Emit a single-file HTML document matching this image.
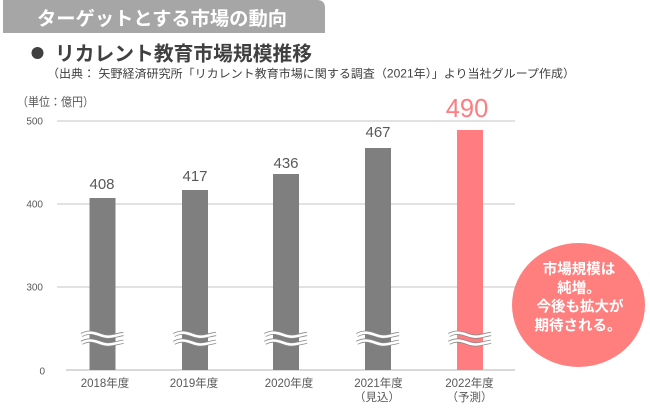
<!DOCTYPE html>
<html>
<head>
<meta charset="utf-8">
<style>
  html,body{margin:0;padding:0;background:#fff;}
  body{width:650px;height:415px;overflow:hidden;}
  svg{display:block;}
  .jp{font-family:"Liberation Sans","Noto Sans CJK JP",sans-serif;}
  .num{font-family:"Liberation Sans","DejaVu Sans",sans-serif;}
</style>
</head>
<body>
<svg width="650" height="415" viewBox="0 0 650 415" xmlns="http://www.w3.org/2000/svg">
  <!-- header -->
  <path d="M3,0 H317 Q325,0 325,8 V33 H3 Z" fill="#a6a6a6"/>
  <text class="jp" x="37" y="25" font-size="19" font-weight="bold" fill="#ffffff" textLength="250" lengthAdjust="spacingAndGlyphs">ターゲットとする市場の動向</text>

  <!-- title -->
  <circle cx="37.5" cy="53" r="6" fill="#404040"/>
  <text class="jp" x="55" y="60.5" font-size="20" font-weight="bold" fill="#404040" textLength="257" lengthAdjust="spacingAndGlyphs">リカレント教育市場規模推移</text>
  <text class="jp" x="47" y="77.5" font-size="11.5" fill="#404040" textLength="528" lengthAdjust="spacingAndGlyphs">（出典： 矢野経済研究所「リカレント教育市場に関する調査（2021年）」より当社グループ作成）</text>

  <!-- unit -->
  <text class="jp" x="17" y="106" font-size="12" fill="#595959" textLength="77" lengthAdjust="spacingAndGlyphs">（単位：億円）</text>

  <!-- gridlines -->
  <g stroke="#d9d9d9" stroke-width="1.5">
    <line x1="57" y1="121" x2="515" y2="121"/>
    <line x1="57" y1="204" x2="515" y2="204"/>
    <line x1="57" y1="287" x2="515" y2="287"/>
  </g>
  <line x1="66" y1="370" x2="515" y2="370" stroke="#d9d9d9" stroke-width="2"/>

  <!-- y labels -->
  <g class="num" font-size="10" fill="#595959" text-anchor="end">
    <text x="43" y="124.5">500</text>
    <text x="43" y="207.5">400</text>
    <text x="43" y="290.5">300</text>
    <text x="45" y="374.5">0</text>
  </g>

  <!-- bars -->
  <rect x="89.5" y="198" width="26" height="172" fill="#7f7f7f"/>
  <rect x="182" y="190" width="26" height="180" fill="#7f7f7f"/>
  <rect x="273" y="174" width="26" height="196" fill="#7f7f7f"/>
  <rect x="365" y="148" width="26" height="222" fill="#7f7f7f"/>
  <rect x="457" y="130" width="26" height="240" fill="#ff7c80"/>

  <!-- break marks -->
  <defs>
    <path id="wv" d="M-21,335 C-18,333.5 -15,332.6 -12,332.7 C-5,333 -1,336.6 5,336.7 C11,336.8 16,334.5 21,334"/>
  </defs>
  <g fill="none">
    <g transform="translate(102.5,0)">
      <use href="#wv" stroke="#8a8a8a" stroke-width="4.2"/><use href="#wv" stroke="#fff" stroke-width="2.6"/>
      <use href="#wv" y="7.8" stroke="#8a8a8a" stroke-width="4.2"/><use href="#wv" y="7.8" stroke="#fff" stroke-width="2.6"/>
    </g>
    <g transform="translate(195,0)">
      <use href="#wv" stroke="#8a8a8a" stroke-width="4.2"/><use href="#wv" stroke="#fff" stroke-width="2.6"/>
      <use href="#wv" y="7.8" stroke="#8a8a8a" stroke-width="4.2"/><use href="#wv" y="7.8" stroke="#fff" stroke-width="2.6"/>
    </g>
    <g transform="translate(286,0)">
      <use href="#wv" stroke="#8a8a8a" stroke-width="4.2"/><use href="#wv" stroke="#fff" stroke-width="2.6"/>
      <use href="#wv" y="7.8" stroke="#8a8a8a" stroke-width="4.2"/><use href="#wv" y="7.8" stroke="#fff" stroke-width="2.6"/>
    </g>
    <g transform="translate(378,0)">
      <use href="#wv" stroke="#8a8a8a" stroke-width="4.2"/><use href="#wv" stroke="#fff" stroke-width="2.6"/>
      <use href="#wv" y="7.8" stroke="#8a8a8a" stroke-width="4.2"/><use href="#wv" y="7.8" stroke="#fff" stroke-width="2.6"/>
    </g>
    <g transform="translate(470,0)">
      <use href="#wv" stroke="#8a8a8a" stroke-width="4.2"/><use href="#wv" stroke="#fff" stroke-width="2.6"/>
      <use href="#wv" y="7.8" stroke="#8a8a8a" stroke-width="4.2"/><use href="#wv" y="7.8" stroke="#fff" stroke-width="2.6"/>
    </g>
  </g>

  <!-- value labels -->
  <g class="num" font-size="15" fill="#595959" text-anchor="middle">
    <text x="102" y="189">408</text>
    <text x="195" y="181">417</text>
    <text x="286" y="168">436</text>
    <text x="378" y="137">467</text>
  </g>
  <text class="num" x="467" y="117" font-size="25.5" fill="#ff7c80" text-anchor="middle">490</text>

  <!-- x labels -->
  <g class="jp" font-size="11.5" fill="#595959" text-anchor="middle">
    <text x="105" y="387">2018年度</text>
    <text x="194" y="387">2019年度</text>
    <text x="289" y="387">2020年度</text>
    <text x="378.5" y="387">2021年度</text>
    <text x="377" y="401">（見込）</text>
    <text x="469.5" y="387">2022年度</text>
    <text x="469.5" y="401">（予測）</text>
  </g>

  <!-- callout -->
  <ellipse cx="578.5" cy="305" rx="66.5" ry="62" fill="#ff7f7f"/>
  <g class="jp" font-size="14.5" font-weight="bold" fill="#ffffff" text-anchor="middle">
    <text x="579" y="274">市場規模は</text>
    <text x="579" y="293">純増。</text>
    <text x="580" y="311.5">今後も拡大が</text>
    <text x="578" y="330.5">期待される。</text>
  </g>
</svg>
</body>
</html>
